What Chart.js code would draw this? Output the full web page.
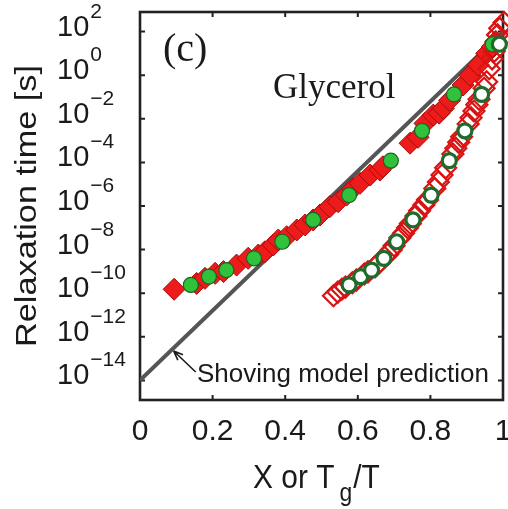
<!DOCTYPE html>
<html>
<head>
<meta charset="utf-8">
<script src="https://cdn.jsdelivr.net/npm/chart.js@4.4.0/dist/chart.umd.min.js"></script>
<style>
  html, body { margin: 0; padding: 0; background: #fff; }
  canvas { display: block; }
</style>
</head>
<body>
<canvas id="relax" width="508" height="509"></canvas>
<script>
// Glycerol relaxation time vs X (filled) and vs Tg/T (open), log10 of seconds

// filled red diamonds, plotted against X
const diamondX = [0.094, 0.156, 0.179, 0.207, 0.230, 0.266, 0.298, 0.326, 0.344, 0.367,
    0.381, 0.404, 0.432, 0.455, 0.477, 0.496, 0.523, 0.546, 0.569, 0.587,
    0.606, 0.634, 0.661, 0.669, 0.744, 0.766, 0.785, 0.808, 0.824, 0.836,
    0.853, 0.890, 0.909, 0.932, 0.955, 0.971, 0.980];
const diamondLogTau = [-9.82, -9.55, -9.32, -9.09, -9.01, -8.71, -8.40, -8.25, -8.10, -7.79,
    -7.56, -7.41, -7.10, -6.87, -6.64, -6.41, -6.03, -5.80, -5.50, -5.19,
    -4.96, -4.58, -4.35, -4.20, -3.12, -2.85, -2.21, -1.83, -1.74, -1.52,
    -1.15, -0.45, 0.00, 0.47, 1.00, 1.32, 1.55];

// open red diamonds, plotted against Tg/T
const squareTgT = [0.533, 0.545, 0.556, 0.566, 0.585, 0.596, 0.618, 0.628, 0.648, 0.659,
    0.682, 0.692, 0.700, 0.716, 0.726, 0.737, 0.745, 0.760, 0.770, 0.782,
    0.792, 0.812, 0.822, 0.832, 0.842, 0.862, 0.870, 0.878, 0.886, 0.904,
    0.912, 0.920, 0.928, 0.934, 0.948, 0.955, 0.962, 0.970, 0.976, 0.981,
    0.985, 0.991, 1.003];
const squareLogTau = [-10.12, -9.95, -9.82, -9.72, -9.52, -9.40, -9.12, -9.02, -8.78, -8.60,
    -8.22, -8.02, -7.82, -7.46, -7.25, -7.00, -6.80, -6.46, -6.22, -5.95,
    -5.72, -5.20, -4.90, -4.58, -4.25, -3.62, -3.35, -3.08, -2.82, -2.24,
    -1.95, -1.64, -1.35, -1.10, -0.60, -0.30, 0.30, 0.75, 1.10, 1.50,
    1.85, 2.15, 2.42];

// green dots (filled vs X, rings vs Tg/T), same relaxation times
const dotX = [0.140, 0.190, 0.238, 0.314, 0.392, 0.477, 0.576, 0.691, 0.777, 0.865, 0.972];
const ringTgT = [0.576, 0.608, 0.638, 0.672, 0.707, 0.752, 0.802, 0.852, 0.895, 0.941, 0.990];
const dotLogTau = [-9.62, -9.24, -8.94, -8.40, -7.64, -6.64, -5.50, -3.92, -2.55, -0.88, 1.42];

// shoving model straight line
const shovingX = [0, 1];
const shovingLogTau = [-14, 2];
const arrowAtX = 0.09;

const xTicks = [0, 0.2, 0.4, 0.6, 0.8, 1];
const xTickLabels = ['0', '0.2', '0.4', '0.6', '0.8', '1'];
const yTickExps = [2, 0, -2, -4, -6, -8, -10, -12, -14];

const SANS = '"Liberation Sans", Arial, sans-serif';
const SERIF = '"Liberation Serif", "Times New Roman", serif';
const INK = '#1a1a1a';

function toPoints(xs, logs) {
    return xs.map((x, i) => ({ x: x, y: Math.pow(10, logs[i]) }));
}

// text with an optional horizontal stretch
function drawText(ctx, str, x, y, font, sx) {
    ctx.save();
    ctx.font = font;
    ctx.translate(x, y);
    ctx.scale(sx || 1, 1);
    ctx.fillText(str, 0, 0);
    const w = ctx.measureText(str).width * (sx || 1);
    ctx.restore();
    return w;
}

// frame with inward ticks, drawn under the markers
const framePlugin = {
    id: 'frame',
    beforeDatasetsDraw(chart) {
        const { ctx, chartArea: a, scales } = chart;
        ctx.save();
        ctx.strokeStyle = '#222';
        ctx.lineWidth = 2;
        xTicks.slice(1, -1).forEach(v => {
            const px = scales.x.getPixelForValue(v);
            ctx.beginPath();
            ctx.moveTo(px, a.bottom); ctx.lineTo(px, a.bottom - 5);
            ctx.moveTo(px, a.top); ctx.lineTo(px, a.top + 5);
            ctx.stroke();
        });
        yTickExps.forEach(e => {
            const py = scales.y.getPixelForValue(Math.pow(10, e));
            ctx.beginPath();
            ctx.moveTo(a.left, py); ctx.lineTo(a.left + 5, py);
            ctx.moveTo(a.right, py); ctx.lineTo(a.right - 5, py);
            ctx.stroke();
        });
        ctx.lineWidth = 2.6;
        ctx.strokeRect(a.left, a.top, a.right - a.left, a.bottom - a.top);
        ctx.restore();
    },
    afterDraw(chart) {
        const { ctx, chartArea: a, scales } = chart;
        ctx.save();
        ctx.fillStyle = INK;
        ctx.textBaseline = 'alphabetic';

        // x tick labels
        ctx.textAlign = 'center';
        ctx.font = '30px ' + SANS;
        xTicks.forEach((v, i) => {
            ctx.fillText(xTickLabels[i], scales.x.getPixelForValue(v), 440);
        });

        // y tick labels as 10^n
        ctx.textAlign = 'left';
        yTickExps.forEach(e => {
            const py = scales.y.getPixelForValue(Math.pow(10, e));
            const w = drawText(ctx, '10', 57, py + 4, '29px ' + SANS);
            const exp = e < 0 ? '\u2212' + Math.abs(e) : String(e);
            drawText(ctx, exp, 57 + w + 1, py - 14, '21px ' + SANS);
        });

        // axis titles
        let x = 253;
        x += drawText(ctx, 'X or T', x, 488, '34px ' + SANS, 0.88);
        x += 5;
        x += drawText(ctx, 'g', x, 501, '26px ' + SANS, 0.88);
        x += 1;
        drawText(ctx, '/T', x, 488, '34px ' + SANS, 0.88);

        ctx.save();
        ctx.translate(36, 206);
        ctx.rotate(-Math.PI / 2);
        ctx.font = '30px ' + SANS;
        const ttl = 'Relaxation time [s]';
        const sx = 282 / ctx.measureText(ttl).width;
        ctx.scale(sx, 1);
        ctx.textAlign = 'center';
        ctx.fillText(ttl, 0, 0);
        ctx.restore();

        // panel letter and material name
        ctx.textAlign = 'left';
        drawText(ctx, '(c)', 163, 61, '40px ' + SERIF);
        drawText(ctx, 'Glycerol', 273, 98, '35px ' + SERIF);

        // annotation with arrow onto the shoving line
        const t = (arrowAtX - shovingX[0]) / (shovingX[1] - shovingX[0]);
        const tipLog = shovingLogTau[0] + t * (shovingLogTau[1] - shovingLogTau[0]);
        const tx = scales.x.getPixelForValue(arrowAtX) + 1;
        const ty = scales.y.getPixelForValue(Math.pow(10, tipLog)) + 2;
        const bx = tx + 22, by = ty + 21;
        ctx.strokeStyle = INK;
        ctx.lineWidth = 1.6;
        ctx.beginPath();
        ctx.moveTo(bx, by); ctx.lineTo(tx, ty);
        const ang = Math.atan2(by - ty, bx - tx);
        [0.38, -0.38].forEach(d => {
            ctx.moveTo(tx, ty);
            ctx.lineTo(tx + 10 * Math.cos(ang + d), ty + 10 * Math.sin(ang + d));
        });
        ctx.stroke();
        drawText(ctx, 'Shoving model prediction', 197, 382, '26px ' + SANS);

        ctx.restore();
    }
};

const ctx = document.getElementById('relax').getContext('2d');

new Chart(ctx, {
    type: 'scatter',
    data: {
        datasets: [
            {
                type: 'line',
                data: toPoints(shovingX, shovingLogTau),
                borderColor: '#555555',
                borderWidth: 4,
                pointRadius: 0,
                fill: false,
                order: 5
            },
            {
                data: toPoints(diamondX, diamondLogTau),
                pointStyle: 'rectRot',
                pointRadius: 11,
                backgroundColor: '#ee1b1b',
                borderColor: '#a30c0c',
                borderWidth: 1,
                clip: false,
                order: 4
            },
            {
                data: toPoints(squareTgT, squareLogTau),
                pointStyle: 'rectRot',
                pointRadius: 10.5,
                backgroundColor: 'rgba(0,0,0,0)',
                borderColor: '#d81414',
                borderWidth: 2.2,
                clip: false,
                order: 3
            },
            {
                data: toPoints(dotX, dotLogTau),
                pointStyle: 'circle',
                pointRadius: 7.5,
                backgroundColor: '#2fc23a',
                borderColor: '#1d6325',
                borderWidth: 1.2,
                clip: false,
                order: 2
            },
            {
                data: toPoints(ringTgT, dotLogTau),
                pointStyle: 'circle',
                pointRadius: 7,
                backgroundColor: '#ffffff',
                borderColor: '#1e6b2c',
                borderWidth: 3.2,
                clip: false,
                order: 1
            }
        ]
    },
    options: {
        responsive: false,
        animation: false,
        events: [],
        layout: { autoPadding: false, padding: { left: 140, right: 5, top: 12, bottom: 109 } },
        plugins: {
            legend: { display: false },
            tooltip: { enabled: false }
        },
        scales: {
            x: { type: 'linear', min: 0, max: 1, display: false },
            y: { type: 'logarithmic', min: Math.pow(10, -14.9), max: Math.pow(10, 2.9), display: false }
        }
    },
    plugins: [framePlugin]
});
</script>
</body>
</html>
